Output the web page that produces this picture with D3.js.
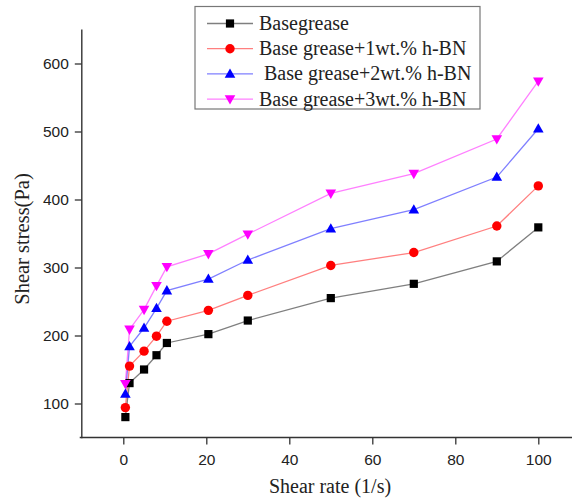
<!DOCTYPE html>
<html><head><meta charset="utf-8">
<script src="https://cdn.jsdelivr.net/npm/d3@7/dist/d3.min.js"></script>
<style>body{margin:0;background:#fff}svg{display:block}</style>
</head><body><svg id="c" width="572" height="502"></svg>
<script>
const shearRate = [0.5, 1.5, 5, 8, 10.5, 20.5, 30, 50, 70, 90, 100];
const baseGrease = [80, 130, 150, 171, 189, 202, 222, 255, 276, 309, 359];
const bn1 = [94, 155, 177, 199, 221, 237, 259, 303, 322, 361, 420];
const bn2 = [114, 184, 211, 240, 266, 283, 311, 357, 385, 433, 504];
const bn3 = [129, 209, 238, 273, 301, 320, 349, 409, 438, 489, 574];
const seriesNames = ["Basegrease", "Base grease+1wt.% h-BN", "\u00a0Base grease+2wt.% h-BN", "Base grease+3wt.% h-BN"];
const xMajorTicks = [0, 20, 40, 60, 80, 100];
const yMajorTicks = [100, 200, 300, 400, 500, 600];
const xTitle = "Shear rate (1/s)";
const yTitle = "Shear stress(Pa)";

const series = [
  {name: seriesNames[0], values: baseGrease, color: "#000000", shape: "square"},
  {name: seriesNames[1], values: bn1, color: "#ff0000", shape: "circle"},
  {name: seriesNames[2], values: bn2, color: "#0000ff", shape: "tri"},
  {name: seriesNames[3], values: bn3, color: "#ff00ff", shape: "tridown"}
];

const svg = d3.select("#c");
const x = d3.scaleLinear().domain([-10, 110]).range([81.8, 579.8]);
const y = d3.scaleLinear().domain([50, 650]).range([437.5, 29.5]);
const axisColor = "#333";

function markerPath(shape) {
  if (shape === "square") return "M-4.1,-4.1H4.1V4.1H-4.1Z";
  if (shape === "circle") return d3.symbol(d3.symbolCircle, Math.PI * 4.7 * 4.7)();
  if (shape === "tri") return "M0,-5.5L5.3,3.8L-5.3,3.8Z";
  return "M0,5.5L5.3,-3.8L-5.3,-3.8Z";
}

// axes
const gx = svg.append("g").attr("transform", `translate(0,${y(50)})`);
gx.call(d3.axisBottom(x).tickValues(d3.range(-10, 111, 10)).tickSize(4).tickFormat(""));
gx.call(d3.axisBottom(x).tickValues(xMajorTicks).tickSize(7).tickPadding(9).tickFormat(d3.format("d")));
gx.selectAll(".domain").remove();
gx.append("line").attr("x1", x(-10.5)).attr("x2", 572).attr("stroke", axisColor).attr("stroke-width", 1.4);

const gy = svg.append("g").attr("transform", `translate(${x(-10)},0)`);
gy.call(d3.axisLeft(y).tickValues(d3.range(50, 651, 50)).tickSize(4).tickFormat(""));
gy.call(d3.axisLeft(y).tickValues(yMajorTicks).tickSize(7).tickPadding(6).tickFormat(d3.format("d")));
gy.selectAll(".domain").remove();
gy.append("line").attr("y1", y(650)).attr("y2", y(50) + 0.7).attr("stroke", axisColor).attr("stroke-width", 1.4);

svg.selectAll(".tick line").attr("stroke", axisColor).attr("stroke-width", 1.3);
svg.selectAll(".tick text").attr("fill", "#222").style("font-family", "'Liberation Sans', Arial, sans-serif").style("font-size", "15.5px");

// titles
svg.append("text").attr("x", 330).attr("y", 493).attr("text-anchor", "middle")
  .style("font-family", "'Liberation Serif', 'Times New Roman', serif").style("font-size", "20px").attr("fill", "#222").text(xTitle);
svg.append("text").attr("transform", "translate(29,239) rotate(-90)").attr("text-anchor", "middle")
  .style("font-family", "'Liberation Serif', 'Times New Roman', serif").style("font-size", "20.5px").attr("fill", "#222").text(yTitle);

// lines and markers
const line = d3.line().x((d, i) => x(shearRate[i])).y(d => y(d));
series.forEach(s => {
  svg.append("path").datum(s.values).attr("d", line).attr("fill", "none")
    .attr("stroke", s.color).attr("stroke-opacity", 0.5).attr("stroke-width", 1.3);
});
series.forEach(s => {
  svg.append("g").selectAll("path").data(s.values).join("path")
    .attr("transform", (d, i) => `translate(${x(shearRate[i])},${y(d)})`)
    .attr("d", markerPath(s.shape)).attr("fill", s.color);
});

// legend
const lg = svg.append("g");
lg.append("rect").attr("x", 195).attr("y", 6.5).attr("width", 285).attr("height", 102.5)
  .attr("fill", "#fff").attr("stroke", "#777").attr("stroke-width", 1.2);
series.forEach((s, i) => {
  const ly = 23.5 + i * 25.2;
  lg.append("line").attr("x1", 207).attr("x2", 253).attr("y1", ly).attr("y2", ly)
    .attr("stroke", s.color).attr("stroke-opacity", 0.5).attr("stroke-width", 1.3);
  lg.append("path").attr("transform", `translate(230,${ly})`).attr("d", markerPath(s.shape)).attr("fill", s.color);
  lg.append("text").attr("x", 259).attr("y", ly + 6.5)
    .style("font-family", "'Liberation Serif', 'Times New Roman', serif").style("font-size", "20px")
    .attr("fill", "#222").text(s.name);
});
</script></body></html>
